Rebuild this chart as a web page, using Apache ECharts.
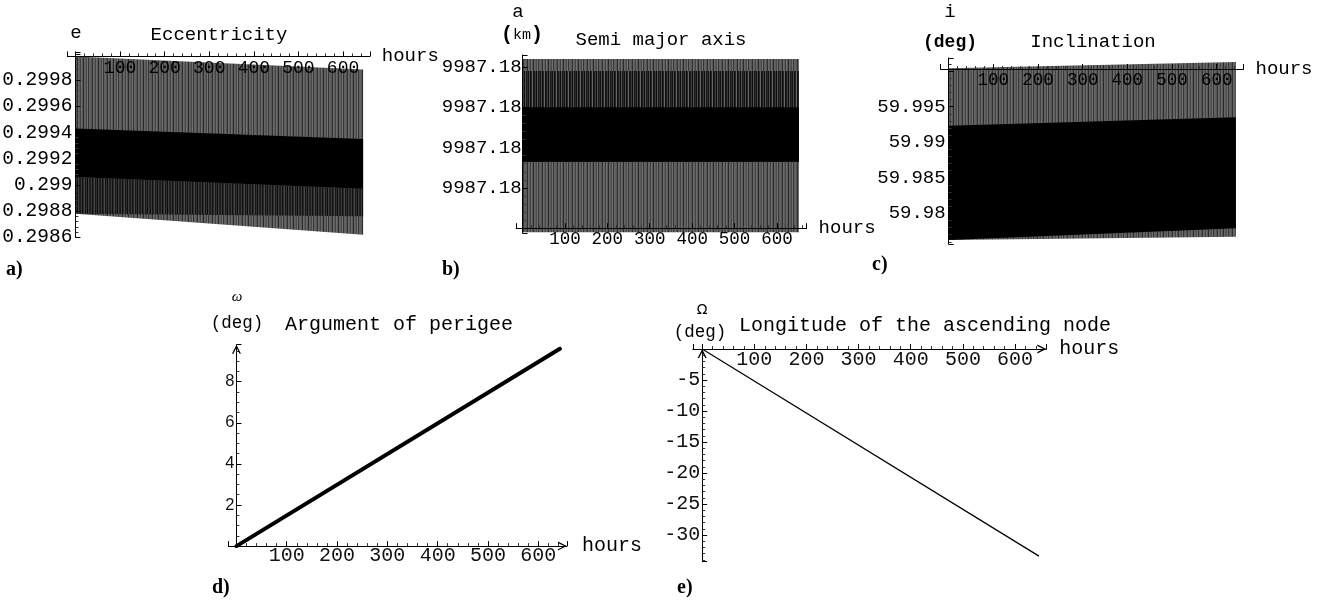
<!DOCTYPE html>
<html><head><meta charset="utf-8">
<script src="https://cdn.jsdelivr.net/npm/echarts@6/dist/echarts.min.js"></script>
<style>html,body{margin:0;padding:0;background:#fff}#c{width:1339px;height:602px}</style>
</head><body><div id="c"></div>
<script>
// ---------------- data ----------------
// a) Eccentricity: envelopes of the oscillating signal
const eccHours      = [0, 645];
const eccGrayUpper  = [0.29998, 0.29988];
const eccGrayLower  = [0.29878, 0.29862];
const eccBlackUpper = [0.29943, 0.29935];
const eccBlackLower = [0.29906, 0.29897];
const eccDarkLower  = [0.29878, 0.29876];
// b) Semi major axis (km)
const smaHours      = [0, 652];
const smaGrayUpper  = [9987.18084, 9987.18084];
const smaGrayLower  = [9987.17998, 9987.17998];
const smaDarkUpper  = [9987.18078, 9987.18078];
const smaBlackUpper = [9987.18060, 9987.18060];
const smaBlackLower = [9987.18033, 9987.18033];
// c) Inclination (deg)
const incHours      = [0, 643];
const incGrayUpper  = [60.0004, 60.0013];
const incGrayLower  = [59.97625, 59.97672];
const incBlackUpper = [59.99233, 59.99351];
const incBlackLower = [59.97625, 59.97790];
// d) Argument of perigee (deg)
const argHours = [0, 643];
const argDeg   = [0, 9.6];
// e) Longitude of the ascending node (deg)
const nodeHours = [0, 646];
const nodeDeg   = [0, -33.4];
// tick values shown on the hour axes
const hourTickLabels = [100, 200, 300, 400, 500, 600];

// ---------------- helpers ----------------
const MONO = '"Liberation Mono","DejaVu Sans Mono",monospace';
function merge(a, b) {
  const out = Array.isArray(a) ? a.slice() : Object.assign({}, a);
  for (const k in b) {
    if (b[k] && typeof b[k] === 'object' && !Array.isArray(b[k]) && typeof b[k] !== 'function' && a[k] && typeof a[k] === 'object') out[k] = merge(a[k], b[k]);
    else out[k] = b[k];
  }
  return out;
}
function stripes(cols) {
  const c = document.createElement('canvas');
  c.width = cols.length; c.height = 2;
  const g = c.getContext('2d');
  cols.forEach((col, i) => { g.fillStyle = col; g.fillRect(i, 0, 1, 2); });
  return { image: c, repeat: 'repeat' };
}
const grayFill = stripes(['#626262','#565656','#303030','#6a6a6a','#5e5e5e','#444','#6c6c6c','#585858','#2a2a2a','#646464','#5c5c5c','#4a4a4a','#707070','#363636','#606060']);
const darkFill = stripes(['#1c1c1c','#3a3a3a','#111','#2a2a2a','#474747','#161616','#303030','#0c0c0c','#3f3f3f','#222']);
const topFill  = stripes(['#141414','#4a4a4a','#0e0e0e','#262626','#666','#111','#1e1e1e','#3c3c3c','#0a0a0a','#555','#181818','#2c2c2c']);

function band(gi, hours, upper, lower, fill) {
  return {
    type: 'custom', xAxisIndex: gi, yAxisIndex: gi, z: 2, silent: true, clip: false,
    data: [[hours[0], lower[0]]],
    renderItem: (params, api) => {
      const pts = [];
      for (let k = 0; k < hours.length; k++) pts.push(api.coord([hours[k], upper[k]]));
      for (let k = hours.length - 1; k >= 0; k--) pts.push(api.coord([hours[k], lower[k]]));
      return { type: 'polygon', shape: { points: pts }, style: { fill: fill, stroke: null } };
    }
  };
}
const chev = 'path://M0,10 L5,0 L10,10 L8.4,10 L5,3.2 L1.6,10 Z';

const isHourLabel = v => hourTickLabels.some(h => Math.abs(h - v) < 1e-6);
function xAx(gi, min, max, o) {
  return merge({
    type: 'value', gridIndex: gi, min, max, minInterval: 100, maxInterval: 100, z: 5, position: 'bottom',
    axisLine: { show: true, onZero: false, lineStyle: { color: '#000', width: 1 } },
    axisTick: { show: true, inside: true, length: 5, lineStyle: { color: '#000', width: 1 } },
    minorTick: { show: true, splitNumber: 5, length: 3, lineStyle: { color: '#333', width: 1 } },
    splitLine: { show: false }, minorSplitLine: { show: false },
    axisLabel: { show: true, margin: 2, fontFamily: MONO, fontSize: 17.5, color: '#000', hideOverlap: false,
      formatter: v => isHourLabel(v) ? String(Math.round(v)) : '' },
    name: 'hours', nameLocation: 'end', nameGap: 12, nameMoveOverlap: false,
    nameTextStyle: { fontFamily: MONO, fontSize: 19, color: '#000', align: 'left', verticalAlign: 'middle' }
  }, o || {});
}
function yAx(gi, min, max, o) {
  return merge({
    type: 'value', gridIndex: gi, min, max, z: 5, scale: true, position: 'left',
    axisLine: { show: true, onZero: false, lineStyle: { color: '#000', width: 1 } },
    axisTick: { show: true, inside: true, length: 5, lineStyle: { color: '#000', width: 1 } },
    minorTick: { show: true, splitNumber: 5, length: 3, lineStyle: { color: '#333', width: 1 } },
    splitLine: { show: false }, minorSplitLine: { show: false },
    axisLabel: { show: true, margin: 3, fontFamily: MONO, fontSize: 19, color: '#000', hideOverlap: false }
  }, o || {});
}

// ---------------- layout ----------------
const G = [
  { left: 67.4,  top: 52.5, width: 302.4, height: 184.8 },   // a
  { left: 516.2, top: 55,   width: 290.4, height: 178 },     // b
  { left: 940.6, top: 58,   width: 302.9, height: 186 },     // c
  { left: 228.4, top: 344.7, width: 338.5, height: 201.4 },  // d
  { left: 692.8, top: 349,  width: 353.5, height: 212.7 }    // e
];
const xR = [[-18, 660], [-15, 670], [-18, 660], [-16, 657], [-18, 660]];
const yR = [[0.2986, 0.30001], [9987.179976, 9987.18086], [59.97569, 60.00185], [0, 9.8], [-34.3, 0]];
const cross = [0.29998, 9987.18, 60.0003, 0, 0];
// x-axis sits where y = cross; y-axis sits where hours = 0
const xOff = cross.map((c, i) => -G[i].height * (c - yR[i][0]) / (yR[i][1] - yR[i][0]));
const yOff = xR.map((r, i) => -G[i].width * (0 - r[0]) / (r[1] - r[0]));
const arrowLine = { symbol: ['none', chev], symbolSize: [11, 9], symbolOffset: [0, -4.5] };

const xAxes = [
  xAx(0, xR[0][0], xR[0][1], { offset: xOff[0], axisLabel: { margin: 3, fontSize: 18 } }),
  xAx(1, xR[1][0], xR[1][1], { offset: xOff[1], axisLabel: { margin: 2 } }),
  xAx(2, xR[2][0], xR[2][1], { offset: xOff[2], axisLabel: { margin: 2 } }),
  xAx(3, xR[3][0], xR[3][1], { offset: xOff[3], axisLine: arrowLine,
    axisLabel: { margin: 0, fontSize: 20, color: '#111' }, nameGap: 15, nameTextStyle: { fontSize: 20 } }),
  xAx(4, xR[4][0], xR[4][1], { offset: xOff[4], axisLine: arrowLine,
    axisLabel: { margin: 1, fontSize: 20, color: '#111' }, nameGap: 13, nameTextStyle: { fontSize: 20 } })
];
const yAxes = [
  yAx(0, yR[0][0], yR[0][1], { offset: yOff[0], interval: 0.0002,
    axisLabel: { fontSize: 19.5, formatter: v => (v > 0.29855 && v < 0.29985) ? String(parseFloat(v.toFixed(4))) : '' } }),
  yAx(1, yR[1][0], yR[1][1], { offset: yOff[1], minInterval: 0.0002, maxInterval: 0.0002, axisLabel: { margin: 1,
    formatter: v => { const q = v / 0.0002; return (v > 9987.1801 && v < 9987.1809 && Math.abs(q - Math.round(q)) < 0.01) ? v.toFixed(2) : ''; } } }),
  yAx(2, yR[2][0], yR[2][1], { offset: yOff[2], minInterval: 0.005, maxInterval: 0.005, axisLabel: {
    formatter: v => { const q = v / 0.005; return (v > 59.977 && v < 59.9999 && Math.abs(q - Math.round(q)) < 0.01) ? String(parseFloat(v.toFixed(3))) : ''; } } }),
  yAx(3, yR[3][0], yR[3][1], { offset: yOff[3], interval: 2, minorTick: { splitNumber: 4 }, axisLine: arrowLine,
    axisLabel: { margin: 2, fontFamily: '"Liberation Sans","DejaVu Sans",sans-serif', fontSize: 16.5, color: '#111',
      formatter: v => (v > 0.5 && v < 9.5 && Math.abs(v / 2 - Math.round(v / 2)) < 1e-6) ? String(Math.round(v)) : '' } }),
  yAx(4, yR[4][0], yR[4][1], { offset: yOff[4], minInterval: 5, maxInterval: 5, axisLine: arrowLine,
    axisLabel: { margin: 2, fontSize: 20, color: '#111',
      formatter: v => (v < -0.5 && v > -34 && Math.abs(v / 5 - Math.round(v / 5)) < 1e-6) ? String(Math.round(v)) : '' } })
];

const series = [
  band(0, eccHours, eccGrayUpper, eccGrayLower, grayFill),
  band(0, eccHours, eccBlackLower, eccDarkLower, darkFill),
  band(0, eccHours, eccBlackUpper, eccBlackLower, '#000'),
  band(1, smaHours, smaGrayUpper, smaGrayLower, grayFill),
  band(1, smaHours, smaDarkUpper, smaBlackLower, topFill),
  band(1, smaHours, smaBlackUpper, smaBlackLower, '#000'),
  band(2, incHours, incGrayUpper, incGrayLower, grayFill),
  band(2, incHours, incBlackUpper, incBlackLower, '#000'),
  { type: 'line', xAxisIndex: 3, yAxisIndex: 3, z: 2, silent: true, symbol: 'none', animation: false,
    data: argHours.map((h, i) => [h, argDeg[i]]), lineStyle: { color: '#000', width: 4, cap: 'round' } },
  { type: 'line', xAxisIndex: 4, yAxisIndex: 4, z: 2, silent: true, symbol: 'none', animation: false,
    data: nodeHours.map((h, i) => [h, nodeDeg[i]]), lineStyle: { color: '#000', width: 1.2 } }
];

function T(text, x, y, font, align, extra) {
  const st = Object.assign({ text, fill: '#000', font: font || ('19px ' + MONO),
    align: align || 'center', textAlign: align || 'center', verticalAlign: 'middle', textVerticalAlign: 'middle' }, extra || {});
  return { type: 'text', x, y, silent: true, z: 10, style: st };
}
const BOLD = 'bold 20px "Liberation Serif","DejaVu Serif",serif';
const graphics = [
  T('Eccentricity', 219, 35),
  T('e', 76, 33),
  T('Semi major axis', 661, 40),
  T('a', 518, 12),
  T('{p|(}{k|km}{p|)}', 522, 35, '19px ' + MONO, 'center', { rich: { p: { font: 'bold 20px ' + MONO }, k: { font: '15px ' + MONO } } }),
  T('Inclination', 1093, 42),
  T('i', 950, 12),
  T('(deg)', 950, 42, 'bold 18px ' + MONO),
  T('Argument of perigee', 399, 325, '20px ' + MONO),
  T('ω', 237, 297, 'italic 15px "Liberation Serif","DejaVu Serif",serif'),
  T('(deg)', 237, 323, '17.5px ' + MONO),
  T('Longitude of the ascending node', 925, 326, '20px ' + MONO),
  T('Ω', 702, 310, '14px "DejaVu Sans",sans-serif'),
  T('(deg)', 700, 332, '17.5px ' + MONO),
  T('a)', 6, 270, BOLD, 'left'),
  T('b)', 442, 270, BOLD, 'left'),
  T('c)', 872, 265, BOLD, 'left'),
  T('d)', 212, 588, BOLD, 'left'),
  T('e)', 677, 588, BOLD, 'left')
];

const chart = echarts.init(document.getElementById('c'), null, { renderer: 'canvas' });
chart.setOption({
  animation: false,
  backgroundColor: '#fff',
  grid: G.map(g => Object.assign({ show: false, containLabel: false, outerBoundsMode: 'none' }, g)),
  xAxis: xAxes,
  yAxis: yAxes,
  series: series,
  graphic: graphics
});
</script></body></html>
